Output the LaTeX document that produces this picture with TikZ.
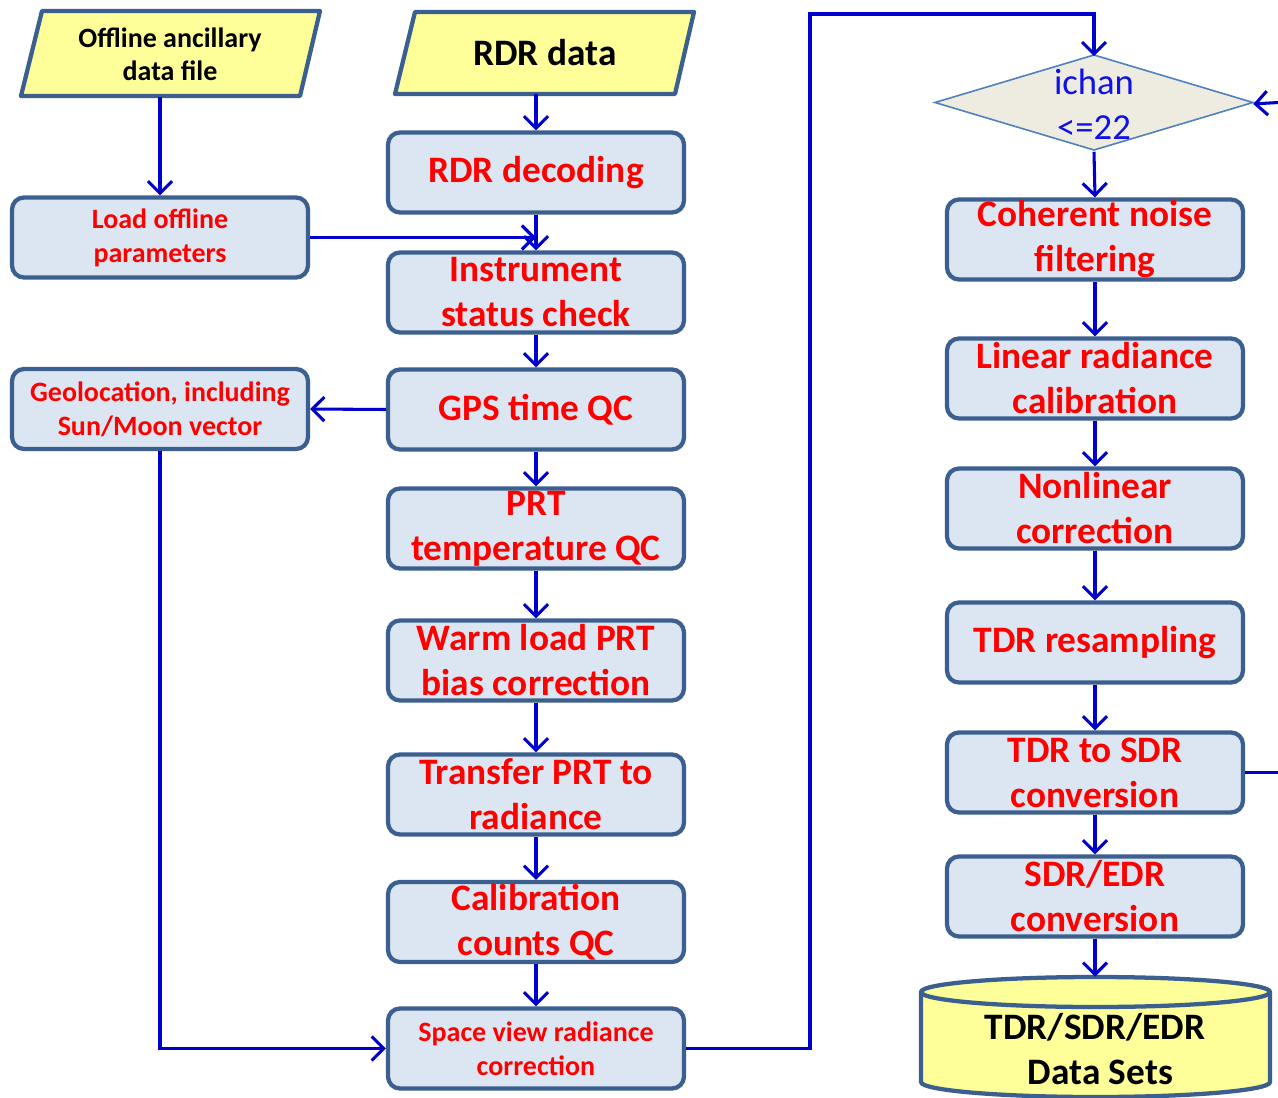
\documentclass[tikz,border=0pt]{standalone}
\usepackage{fontspec}
\setmainfont{Carlito}
\usetikzlibrary{arrows.meta}
\definecolor{boxfill}{HTML}{DCE6F2}
\definecolor{boxline}{HTML}{3B5F8F}
\definecolor{arr}{HTML}{0000CC}
\definecolor{yel}{HTML}{FFFF99}
\definecolor{dfill}{HTML}{EEECE1}
\definecolor{dline}{HTML}{4F81BD}
\definecolor{dtext}{HTML}{1010E8}
\begin{document}
\begin{tikzpicture}[x=0.75pt,y=-0.75pt,
  proc/.style={draw=boxline, fill=boxfill, line width=3.2pt, rounded corners=9pt,
    minimum width=222pt, minimum height=60pt, inner sep=0pt, align=center,
    text=red, font=\bfseries\fontsize{28}{33.75}\selectfont},
  procs/.style={proc, font=\bfseries\fontsize{21}{25.5}\selectfont},
  datatext/.style={align=center, inner sep=0pt, text=black},
  flow/.style={draw=arr, line width=2.3pt, -{Straight Barb[length=9pt,width=18pt,line width=2.3pt]}},
  plain/.style={draw=arr, line width=2.3pt},
  shapeline/.style={draw=boxline, line width=3.2pt, line join=round}]
\useasboundingbox (0,0) rectangle (1278,1098);
\fill[white] (0,0) rectangle (1278,1098);

% input parallelograms
\filldraw[shapeline, fill=yel] (42,11) -- (320,11) -- (300,96) -- (21,96) -- cycle;
\node[datatext, minimum height=63.75pt, font=\bfseries\fontsize{21}{24.75}\selectfont] (off) at (170,54) {Offline ancillary\\data file};
\filldraw[shapeline, fill=yel] (415,12) -- (694,12) -- (675,94) -- (395,94) -- cycle;
\node[datatext, minimum height=61.5pt, font=\bfseries\fontsize{28}{33.75}\selectfont] (rdr) at (545,53) {RDR data};

% middle column
\node[proc] (dec) at (536,172.5) {RDR decoding};
\node[proc] (ins) at (536,292.5) {Instrument\\status check};
\node[proc] (gps) at (536,409.5) {GPS time QC};
\node[proc] (prt) at (536,528.5) {PRT\\temperature QC};
\node[proc] (warm) at (536,660.5) {Warm load PRT\\bias correction};
\node[proc] (tra) at (536,794.5) {Transfer PRT to\\radiance};
\node[proc] (cal) at (536,922) {Calibration\\counts QC};
\node[procs] (spv) at (536,1048.5) {Space view radiance\\correction};

% left column
\node[procs] (load) at (160,237.5) {Load offline\\parameters};
\node[procs] (geo) at (160,409) {Geolocation, including\\Sun/Moon vector};

% decision
\filldraw[draw=dline, fill=dfill, line width=1.2pt] (935,102.5) -- (1094,55) -- (1253,102.5) -- (1094,150) -- cycle;
\node[datatext, text=dtext, minimum width=238.5pt, minimum height=71.25pt, font=\fontsize{27.5}{33.75}\selectfont] (dia) at (1094,104) {ichan\\<=22};

% right column
\node[proc] (coh) at (1095,239.5) {Coherent noise\\filtering};
\node[proc] (lin) at (1095,378.5) {Linear radiance\\calibration};
\node[proc] (non) at (1095,508.5) {Nonlinear\\correction};
\node[proc] (tdr) at (1095,642.5) {TDR resampling};
\node[proc] (t2s) at (1095,772.5) {TDR to SDR\\conversion};
\node[proc] (s2e) at (1095,896.5) {SDR/EDR\\conversion};

% cylinder
\filldraw[shapeline, fill=yel] (921,992) -- (921,1082) arc[start angle=180, end angle=360, x radius=130.9pt, y radius=11.25pt] -- (1270,992);
\filldraw[shapeline, fill=yel] (1095.5,992) ellipse [x radius=130.9pt, y radius=11.25pt];
\node[datatext, minimum height=108pt, font=\bfseries\fontsize{28}{33.75}\selectfont] (cyl) at (1095,1049) {TDR/SDR/EDR\\\hspace*{8pt}Data Sets};

% connectors
\draw[flow] (off.south -| load.north) -- (load.north);
\draw[flow] (rdr.south -| dec.north) -- (dec.north);
\draw[flow] (dec.south) -- (ins.north);
\draw[flow] (load.east) -- (load.east -| ins.north);
\draw[flow] (ins.south) -- (gps.north);
\draw[flow] (gps.west) -- (geo.east);
\draw[flow] (gps.south) -- (prt.north);
\draw[flow] (prt.south) -- (warm.north);
\draw[flow] (warm.south) -- (tra.north);
\draw[flow] (tra.south) -- (cal.north);
\draw[flow] (cal.south) -- (spv.north);
\draw[flow] (geo.south) |- (spv.west);
\coordinate (up) at (810,14);
\draw[flow] (spv.east) -| (up) -- (up -| dia.north) -- (dia.north);
\draw[flow] (dia.south) -- (coh.north);
\draw[flow] (coh.south) -- (lin.north);
\draw[flow] (lin.south) -- (non.north);
\draw[flow] (non.south) -- (tdr.north);
\draw[flow] (tdr.south) -- (t2s.north);
\draw[flow] (t2s.south) -- (s2e.north);
\draw[flow] (s2e.south) -- (cyl.north);
\coordinate (edgeA) at (1278,772.5);
\coordinate (edgeB) at (1278,102.5);
\draw[plain] (t2s.east) -- (edgeA);
\draw[flow] (edgeB) -- (dia.east);
\end{tikzpicture}
\end{document}
